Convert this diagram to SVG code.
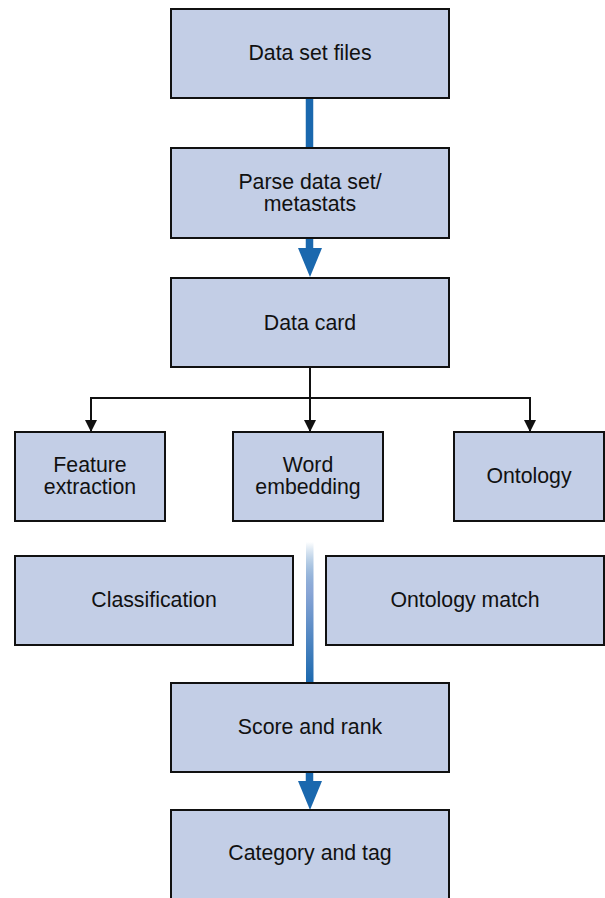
<svg xmlns="http://www.w3.org/2000/svg" width="605" height="898" viewBox="0 0 605 898">
<style>
.box{fill:#c3cee6;stroke:#111;stroke-width:2}
.t{font-family:"Liberation Sans",Arial,sans-serif;font-size:21.3px;fill:#111;text-anchor:middle}
.thin{fill:none;stroke:#111;stroke-width:2}
.blue{fill:none;stroke:#1a68ae;stroke-width:7.5}
</style>
<defs>
<marker id="ah" markerWidth="12" markerHeight="12" refX="10" refY="5" orient="auto" markerUnits="userSpaceOnUse" viewBox="0 0 10 10">
<path d="M0,0 L10,5 L0,10 Z" fill="#111"/>
</marker>
<linearGradient id="g" x1="0" y1="0" x2="0" y2="1">
<stop offset="0" stop-color="#1a68ae" stop-opacity="0"/>
<stop offset="0.35" stop-color="#8aa6d6"/>
<stop offset="1" stop-color="#1a68ae"/>
</linearGradient>
</defs>
<g id="connectors">
<line class="blue" x1="309.5" y1="98" x2="309.5" y2="148"/>
<line class="blue" x1="309.5" y1="238" x2="309.5" y2="252"/>
<path d="M298,248 L322,248 L310,277 Z" fill="#1a68ae"/>
<path class="thin" d="M310,367 V398 M91,398 H530"/>
<line class="thin" x1="91" y1="397" x2="91" y2="432" marker-end="url(#ah)"/>
<line class="thin" x1="310" y1="397" x2="310" y2="432" marker-end="url(#ah)"/>
<line class="thin" x1="530" y1="397" x2="530" y2="432" marker-end="url(#ah)"/>
<rect x="306" y="542" width="7.5" height="141" fill="url(#g)"/>
<line class="blue" x1="309.5" y1="772" x2="309.5" y2="786"/>
<path d="M298,781 L322,781 L310,810 Z" fill="#1a68ae"/>
</g>
<g id="n1"><rect class="box" x="171" y="9" width="278" height="89"/><text class="t" x="310" y="60">Data set files</text></g>
<g id="n2"><rect class="box" x="171" y="148" width="278" height="90"/><text class="t" x="310" y="189">Parse data set/</text><text class="t" x="310" y="211">metastats</text></g>
<g id="n3"><rect class="box" x="171" y="278" width="278" height="89"/><text class="t" x="310" y="330">Data card</text></g>
<g id="n4"><rect class="box" x="15" y="432" width="150" height="89"/><text class="t" x="90" y="472">Feature</text><text class="t" x="90" y="494">extraction</text></g>
<g id="n5"><rect class="box" x="233" y="432" width="150" height="89"/><text class="t" x="308" y="472">Word</text><text class="t" x="308" y="494">embedding</text></g>
<g id="n6"><rect class="box" x="454" y="432" width="150" height="89"/><text class="t" x="529" y="483">Ontology</text></g>
<g id="n7"><rect class="box" x="15" y="556" width="278" height="89"/><text class="t" x="154" y="607">Classification</text></g>
<g id="n8"><rect class="box" x="326" y="556" width="278" height="89"/><text class="t" x="465" y="607">Ontology match</text></g>
<g id="n9"><rect class="box" x="171" y="683" width="278" height="89"/><text class="t" x="310" y="734">Score and rank</text></g>
<g id="n10"><rect class="box" x="171" y="810" width="278" height="90"/><text class="t" x="310" y="860">Category and tag</text></g>
</svg>
